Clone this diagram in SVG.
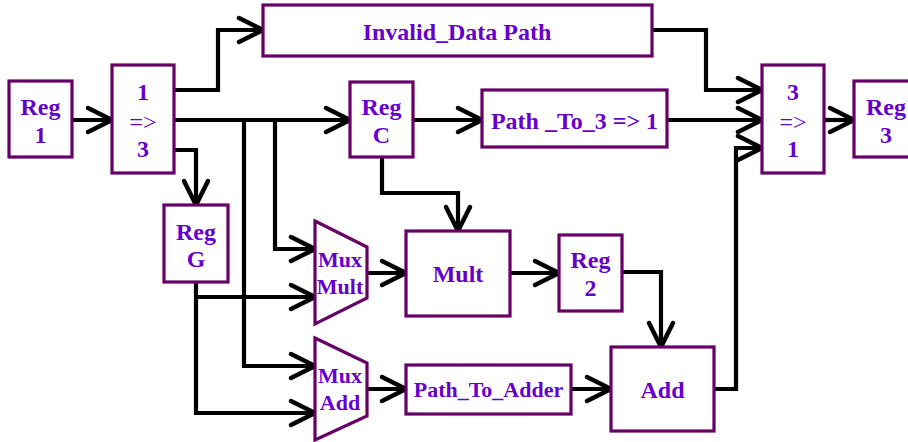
<svg xmlns="http://www.w3.org/2000/svg" width="908" height="442" viewBox="0 0 908 442">
  <style>
    .box { fill: #ffffff; stroke: #660066; stroke-width: 3.2; }
    .wire { fill: none; stroke: #000000; stroke-width: 4.2; stroke-linejoin: miter; }
    .lbl { font-family: "Liberation Serif", "Times New Roman", serif; font-weight: bold; font-size: 24px; fill: #6600cc; text-anchor: middle; }
    .sm { font-size: 22px; }
    .op { font-weight: normal; }
  </style>
  <defs>
    <marker id="arr" markerUnits="userSpaceOnUse" markerWidth="32" markerHeight="32" viewBox="0 0 32 32" refX="27" refY="16" orient="auto" overflow="visible">
      <path d="M3,4 L27,16 L3,28" fill="none" stroke="#000000" stroke-width="4.5" stroke-linecap="round" stroke-linejoin="miter"/>
    </marker>
  </defs>
  <rect width="908" height="442" fill="#ffffff"/>

  <!-- connectors -->
  <g id="connectors" class="wire">
    <path d="M72,120 H112" marker-end="url(#arr)"/>
    <path d="M171,90 H218 V30 H263" marker-end="url(#arr)"/>
    <path d="M174,120 H350" marker-end="url(#arr)"/>
    <path d="M171,150 H196 V205" marker-end="url(#arr)"/>
    <path d="M244,120 V366 H315" marker-end="url(#arr)"/>
    <path d="M275,120 V249 H315" marker-end="url(#arr)"/>
    <path d="M196,282 V413 H315" marker-end="url(#arr)"/>
    <path d="M196,297 H315" marker-end="url(#arr)"/>
    <path d="M367,273 H406" marker-end="url(#arr)"/>
    <path d="M367,389 H406" marker-end="url(#arr)"/>
    <path d="M413,120 H482" marker-end="url(#arr)"/>
    <path d="M382,157 V193 H458 V231" marker-end="url(#arr)"/>
    <path d="M510,273 H559" marker-end="url(#arr)"/>
    <path d="M622,272 H661 V347" marker-end="url(#arr)"/>
    <path d="M571,389 H611" marker-end="url(#arr)"/>
    <path d="M652,30 H706 V90 H762" marker-end="url(#arr)"/>
    <path d="M667,120 H762" marker-end="url(#arr)"/>
    <path d="M714,389 H736 V148 H762" marker-end="url(#arr)"/>
    <path d="M824,120 H854" marker-end="url(#arr)"/>
  </g>

  <!-- nodes -->
  <g id="reg1">
    <rect class="box" x="9" y="81" width="63" height="76"/>
    <text class="lbl" x="40.5" y="115">Reg</text>
    <text class="lbl" x="40.5" y="143">1</text>
  </g>
  <g id="split">
    <rect class="box" x="112" y="65" width="62" height="108"/>
    <text class="lbl" x="143" y="100">1</text>
    <text class="lbl op" x="143" y="130">=&gt;</text>
    <text class="lbl" x="143" y="157">3</text>
  </g>
  <g id="invalid">
    <rect class="box" x="263" y="5" width="389" height="51"/>
    <text class="lbl" x="457" y="40">Invalid_Data Path</text>
  </g>
  <g id="regC">
    <rect class="box" x="350" y="82" width="63" height="75"/>
    <text class="lbl" x="381.5" y="115">Reg</text>
    <text class="lbl" x="381.5" y="143">C</text>
  </g>
  <g id="pathTo3">
    <rect class="box" x="482" y="90" width="185" height="57"/>
    <text class="lbl" x="574.5" y="129">Path _To_3 =&gt; 1</text>
  </g>
  <g id="merge">
    <rect class="box" x="762" y="65" width="62" height="108"/>
    <text class="lbl" x="793" y="100">3</text>
    <text class="lbl op" x="793" y="130">=&gt;</text>
    <text class="lbl" x="793" y="157">1</text>
  </g>
  <g id="reg3">
    <rect class="box" x="854" y="81" width="63" height="76"/>
    <text class="lbl" x="886" y="115">Reg</text>
    <text class="lbl" x="886" y="143">3</text>
  </g>
  <g id="regG">
    <rect class="box" x="164" y="205" width="64" height="77"/>
    <text class="lbl" x="196" y="240">Reg</text>
    <text class="lbl" x="196" y="267">G</text>
  </g>
  <g id="muxMult">
    <polygon class="box" points="315,221 367,247 367,298 315,324"/>
    <text class="lbl sm" x="340" y="267">Mux</text>
    <text class="lbl sm" x="340" y="294">Mult</text>
  </g>
  <g id="muxAdd">
    <polygon class="box" points="315,338 367,363 367,416 315,440"/>
    <text class="lbl sm" x="340" y="383">Mux</text>
    <text class="lbl sm" x="340" y="410">Add</text>
  </g>
  <g id="mult">
    <rect class="box" x="406" y="231" width="104" height="85"/>
    <text class="lbl" x="458" y="282">Mult</text>
  </g>
  <g id="reg2">
    <rect class="box" x="559" y="235" width="63" height="76"/>
    <text class="lbl" x="590.5" y="268">Reg</text>
    <text class="lbl" x="590.5" y="296">2</text>
  </g>
  <g id="pathToAdder">
    <rect class="box" x="406" y="365" width="165" height="49"/>
    <text class="lbl" x="488.5" y="397" style="font-size:22px">Path_To_Adder</text>
  </g>
  <g id="add">
    <rect class="box" x="611" y="347" width="103" height="84"/>
    <text class="lbl" x="662.5" y="398">Add</text>
  </g>
</svg>
